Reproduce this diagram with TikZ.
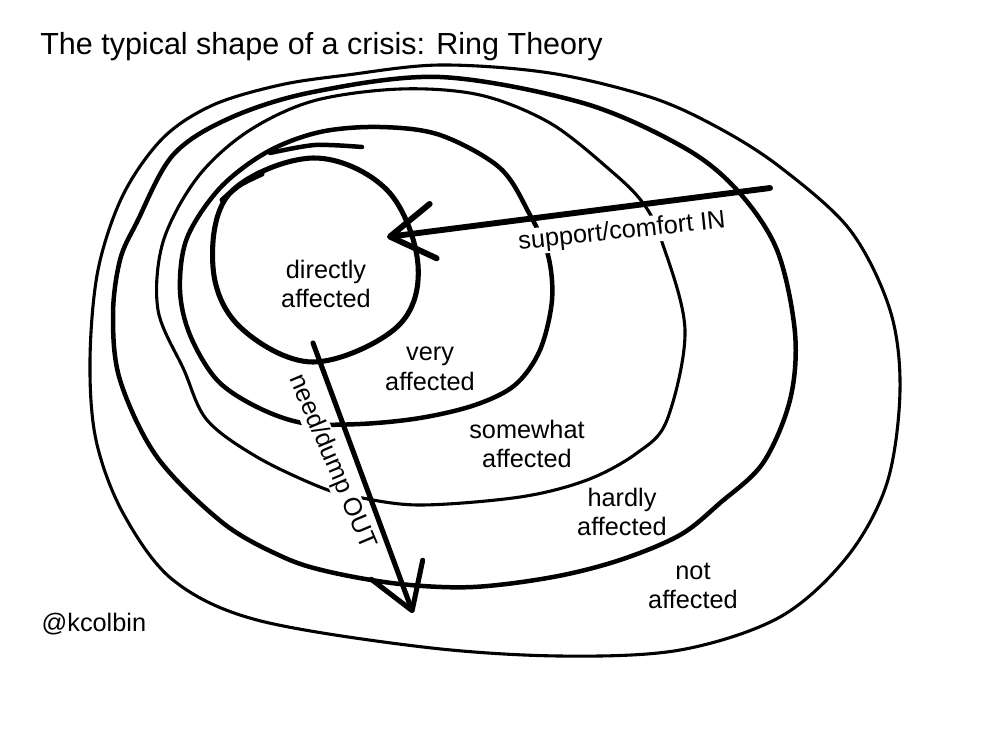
\documentclass[tikz,border=0pt]{standalone}
\usepackage{fontspec}
\setmainfont{Liberation Sans}
\usetikzlibrary{arrows.meta}

\tikzset{
  ring/.style={line width=#1, line cap=round, line join=round},
  ring/.default=2.2pt,
  lbl/.style={align=center, inner sep=1pt, font=\fontsize{18}{21}\selectfont},
  arrowlbl/.style={lbl, fill=white},
  bigarrow/.style={line width=#1, line cap=round,
    -{Straight Barb[length=31pt, width=39pt, round]}},
}

\begin{document}
\begin{tikzpicture}[x=0.25mm, y=-0.25mm]
  \useasboundingbox (0,0) rectangle (994,740);
  \node[anchor=base west, inner sep=0pt, font=\fontsize{21.7}{26}\selectfont] (title) at (40,54)
    {The typical shape of a crisis: Ring Theory};

  % rings, outside in
  \draw[ring] plot[smooth cycle, tension=0.55] coordinates {
    (440,65) (550,73) (650,97) (717,127) (780,167) (850,230) (890,310) (900,390)
    (887,483) (847,557) (780,617) (680,650) (560,656) (423,647) (257,620) (173,580)
    (123,513) (96,440) (90,360) (98,270) (123,195) (163,138) (213,105) (280,85) (347,75)};
  \draw[ring=3.2pt] plot[smooth cycle, tension=0.55] coordinates {
    (440,77) (583,103) (683,147) (737,190) (777,250) (795,333) (790,400) (763,463)
    (720,503) (680,535) (620,560) (553,577) (473,587) (400,584) (330,572) (283,557)
    (223,523) (157,457) (120,380) (113,315) (120,260) (137,222) (173,155) (230,118) (313,92)};
  \draw[ring] plot[smooth cycle, tension=0.55] coordinates {
    (480,95) (550,123) (610,170) (643,203) (662,242) (685,330) (667,420) (637,453)
    (587,480) (520,497) (420,505) (357,497) (320,487) (257,457) (207,420) (184,370)
    (158,310) (163,242) (197,178) (247,132) (313,101) (400,89)};
  \draw[ring=3.2pt] plot[smooth cycle, tension=0.55] coordinates {
    (440,135) (500,168) (530,215) (548,255) (552,300) (540,350) (515,385) (475,405)
    (420,418) (360,424) (303,423) (257,407) (217,380) (190,335) (180,290) (187,238)
    (220,188) (267,152) (320,132) (380,127)};
  \draw[ring=3.2pt] plot[smooth] coordinates {(270,153) (315,145) (362,147)};
  \draw[ring=3.6pt] plot[smooth cycle, tension=0.6] coordinates {
    (313,158) (387,190) (418,265) (397,327) (313,362) (240,327) (213,267) (230,193)};
  \draw[ring=3.6pt] plot[smooth] coordinates {(222,200) (240,185) (262,174)};

  \node[lbl] (lblDirect) at (326,284) {directly\\affected};
  \node[lbl] (lblVery) at (430,369) {very\\affected};
  \node[lbl] (lblSomewhat) at (527,444) {somewhat\\affected};
  \node[lbl] (lblHardly) at (622,512) {hardly\\affected};
  \node[lbl] (lblNot) at (693,586) {not\\affected};
  \node[arrowlbl, rotate=6] (lblIn) at (622,232) {support/comfort IN};
  \node[arrowlbl, rotate=-67] (lblOut) at (332,462) {need/dump OUT};
  \node[lbl, anchor=west] (handle) at (40,624) {@kcolbin};

  \coordinate (inStart) at (770,188);
  \coordinate (inTip) at (387,237);
  \coordinate (outStart) at (313,343);
  \coordinate (outTip) at (413,613);
  \draw[bigarrow=4.2pt] (inStart) -- (inTip);
  \draw[bigarrow=3.6pt] (outStart) -- (outTip);
\end{tikzpicture}
\end{document}
